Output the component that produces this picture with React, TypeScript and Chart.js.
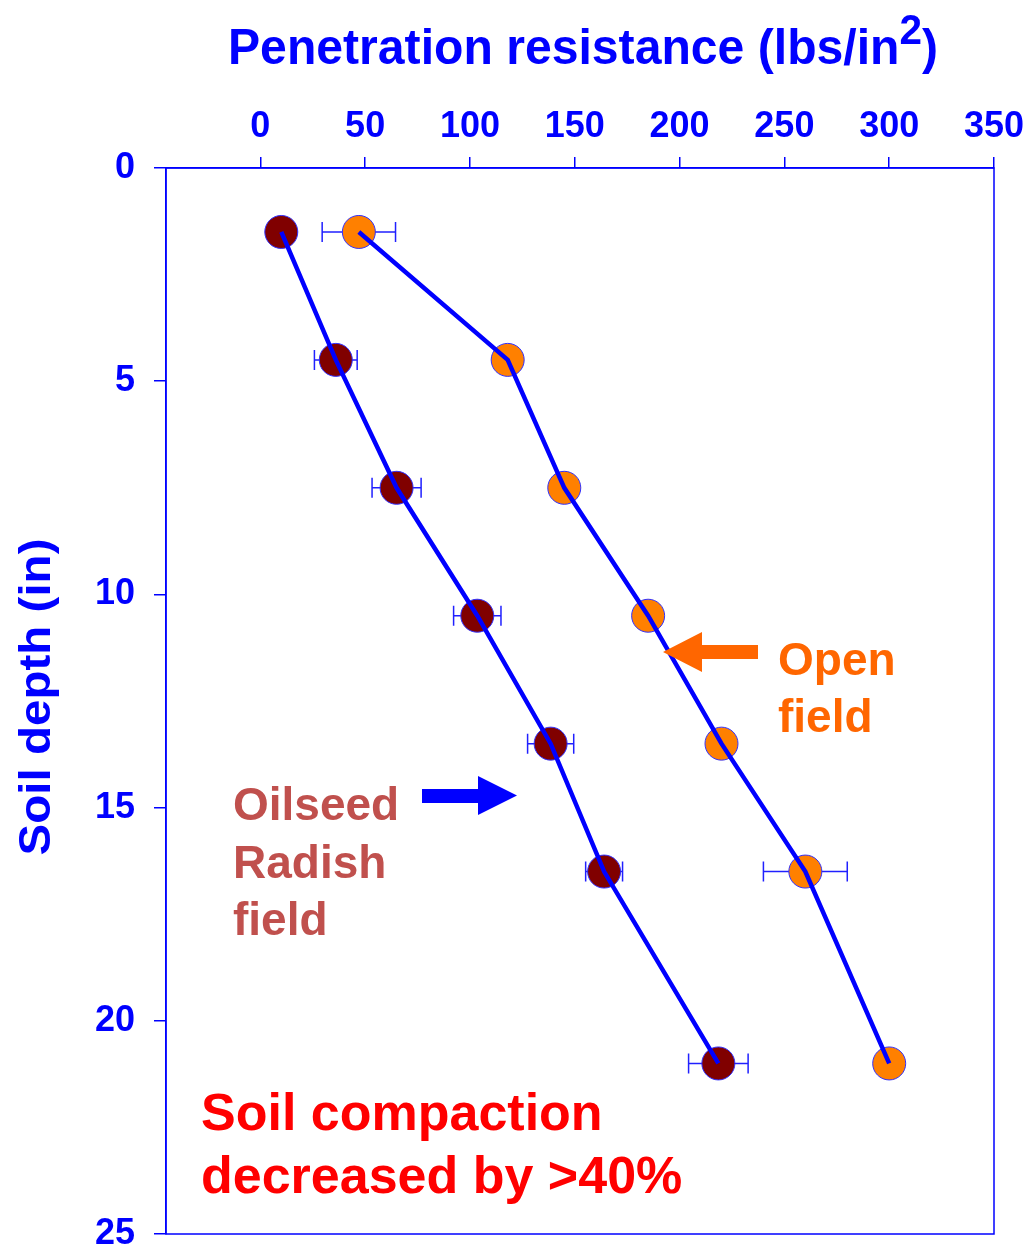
import React, { useEffect, useRef } from 'react';
import { Chart, registerables } from 'chart.js';

Chart.register(...registerables);

// ---- data ----
const depths = [1.5, 4.5, 7.5, 10.5, 13.5, 16.5, 21];
const openField = [47, 118, 145, 185, 220, 260, 300];
const openFieldErr = [17.5, 5, 5, 5, 5, 20, 5];
const radishField = [10, 36, 65, 103.5, 138.5, 164, 218.5];
const radishFieldErr = [5, 10.2, 11.7, 11.3, 11, 8.8, 14.2];

const xMin = -45;
const xMax = 350;
const xStep = 50;
const yMin = 0;
const yMax = 25;
const yStep = 5;

const xTitle = 'Penetration resistance (lbs/in';
const xTitleSup = '2';
const yTitle = 'Soil depth (in)';

const BLUE = '#0000FF';
const SANS = '"Liberation Sans", Arial, Helvetica, sans-serif';

function drawArrow(ctx: CanvasRenderingContext2D, pts: number[][], color: string) {
  ctx.beginPath();
  ctx.moveTo(pts[0][0], pts[0][1]);
  for (let i = 1; i < pts.length; i++) ctx.lineTo(pts[i][0], pts[i][1]);
  ctx.closePath();
  ctx.fillStyle = color;
  ctx.fill();
}

const errorBarPlugin = {
  id: 'errorBars',
  beforeDatasetsDraw(chart: any) {
    const ctx = chart.ctx;
    const xs = chart.scales.x;
    const ys = chart.scales.y;
    const sets = [
      [openField, openFieldErr],
      [radishField, radishFieldErr],
    ];
    ctx.save();
    ctx.strokeStyle = '#2020FF';
    ctx.lineWidth = 1.5;
    for (const [vals, errs] of sets) {
      for (let i = 0; i < depths.length; i++) {
        const y = ys.getPixelForValue(depths[i]);
        const x1 = xs.getPixelForValue(vals[i] - errs[i]);
        const x2 = xs.getPixelForValue(vals[i] + errs[i]);
        ctx.beginPath();
        ctx.moveTo(x1, y);
        ctx.lineTo(x2, y);
        ctx.moveTo(x1, y - 10);
        ctx.lineTo(x1, y + 10);
        ctx.moveTo(x2, y - 10);
        ctx.lineTo(x2, y + 10);
        ctx.stroke();
      }
    }
    // frame
    const a = chart.chartArea;
    ctx.strokeStyle = BLUE;
    ctx.lineWidth = 1.5;
    ctx.strokeRect(a.left, a.top, a.right - a.left, a.bottom - a.top);
    ctx.restore();
  },
};

const textPlugin = {
  id: 'texts',
  afterDraw(chart: any) {
    const ctx: CanvasRenderingContext2D = chart.ctx;
    ctx.save();
    // x title with superscript
    const mainFont = `bold 50px ${SANS}`;
    const supFont = `bold 42px ${SANS}`;
    ctx.font = mainFont;
    const w1 = ctx.measureText(xTitle).width;
    const w3 = ctx.measureText(')').width;
    ctx.font = supFont;
    const w2 = ctx.measureText(xTitleSup).width;
    const total = w1 + w2 + w3;
    const targetLeft = 228;
    const targetW = 710;
    const sx = targetW / total;
    ctx.translate(targetLeft, 64);
    ctx.scale(sx, 1);
    ctx.fillStyle = BLUE;
    ctx.textBaseline = 'alphabetic';
    ctx.textAlign = 'left';
    ctx.font = mainFont;
    ctx.fillText(xTitle, 0, 0);
    ctx.font = supFont;
    ctx.fillText(xTitleSup, w1, -20);
    ctx.font = mainFont;
    ctx.fillText(')', w1 + w2, 0);
    ctx.restore();

    // y title rotated
    ctx.save();
    const yFont = `bold 44px ${SANS}`;
    ctx.font = yFont;
    const yw = ctx.measureText(yTitle).width;
    const a = chart.chartArea;
    ctx.translate(38, (a.top + a.bottom) / 2 - 4);
    ctx.rotate(-Math.PI / 2);
    ctx.scale(317 / yw, 1);
    ctx.fillStyle = BLUE;
    ctx.textAlign = 'center';
    ctx.textBaseline = 'middle';
    ctx.fillText(yTitle, 0, 0);
    ctx.restore();

    // annotations
    ctx.save();
    ctx.textAlign = 'left';
    ctx.textBaseline = 'alphabetic';
    ctx.font = `bold 46px ${SANS}`;
    ctx.fillStyle = '#FF6600';
    ctx.fillText('Open', 778, 675);
    ctx.fillText('field', 778, 732);

    ctx.font = `bold 46px ${SANS}`;
    ctx.fillStyle = '#C0504D';
    ctx.fillText('Oilseed', 233, 820);
    ctx.fillText('Radish', 233, 878);
    ctx.fillText('field', 233, 935);

    ctx.font = `bold 52px ${SANS}`;
    ctx.fillStyle = '#FF0000';
    ctx.fillText('Soil compaction', 201, 1130);
    ctx.fillText('decreased by >40%', 201, 1193);

    drawArrow(ctx, [[663, 652], [702, 632], [702, 645], [758, 645], [758, 659], [702, 659], [702, 672]], '#FF6600');
    drawArrow(ctx, [[517, 795.5], [478, 776], [478, 789], [422, 789], [422, 803], [478, 803], [478, 815]], '#0000FF');
    ctx.restore();
  },
};

export default function App() {
  const ref = useRef<HTMLCanvasElement | null>(null);

  useEffect(() => {
    if (!ref.current) return;
    const pts = (vals: number[]) => vals.map((v, i) => ({ x: v, y: depths[i] }));
    const chart = new Chart(ref.current, {
      type: 'scatter',
      data: {
        datasets: [
          {
            label: 'Open field line',
            data: pts(openField),
            showLine: true,
            borderColor: BLUE,
            borderWidth: 4.5,
            pointRadius: 0,
            order: 1,
          } as any,
          {
            label: 'Oilseed Radish line',
            data: pts(radishField),
            showLine: true,
            borderColor: BLUE,
            borderWidth: 4.5,
            pointRadius: 0,
            order: 1,
          } as any,
          {
            label: 'Open field',
            data: pts(openField),
            showLine: false,
            pointRadius: 16.5,
            backgroundColor: '#FF8000',
            borderColor: '#3030FF',
            borderWidth: 1,
            order: 3,
          } as any,
          {
            label: 'Oilseed Radish field',
            data: pts(radishField),
            showLine: false,
            pointRadius: 16.5,
            backgroundColor: '#800000',
            borderColor: '#3030FF',
            borderWidth: 1,
            order: 3,
          } as any,
        ],
      },
      options: {
        responsive: false,
        animation: false,
        devicePixelRatio: 1,
        layout: { padding: { left: 0, right: 40, top: 0, bottom: 19 } },
        plugins: {
          legend: { display: false },
          tooltip: { enabled: false },
          title: { display: false },
        },
        scales: {
          x: {
            type: 'linear',
            position: 'top',
            min: xMin,
            max: xMax,
            ticks: {
              stepSize: xStep,
              includeBounds: false,
              color: BLUE,
              padding: 8,
              font: { family: SANS, size: 36, weight: 'bold', lineHeight: 1.2 },
              maxRotation: 0,
            },
            grid: {
              display: true,
              drawOnChartArea: false,
              drawTicks: true,
              tickLength: 11,
              color: BLUE,
              lineWidth: 1.5,
            },
            border: { display: true, color: BLUE, width: 1.5 },
            afterFit: (s: any) => {
              s.height = 168;
              s.paddingLeft = 0;
              s.paddingRight = 0;
            },
          } as any,
          y: {
            type: 'linear',
            reverse: true,
            min: yMin,
            max: yMax,
            ticks: {
              stepSize: yStep,
              color: BLUE,
              padding: 19,
              font: { family: SANS, size: 36, weight: 'bold' },
            },
            grid: {
              display: true,
              drawOnChartArea: false,
              drawTicks: true,
              tickLength: 12,
              color: BLUE,
              lineWidth: 1.5,
            },
            border: { display: true, color: BLUE, width: 1.5 },
            afterFit: (s: any) => {
              s.width = 166;
              s.paddingTop = 0;
              s.paddingBottom = 0;
            },
          } as any,
        },
      },
      plugins: [errorBarPlugin, textPlugin],
    });
    return () => chart.destroy();
  }, []);

  return (
    <div style={{ position: 'fixed', left: 0, top: 0, width: 1034, height: 1253, background: '#fff' }}>
      <canvas ref={ref} width={1034} height={1253} style={{ width: 1034, height: 1253, display: 'block' }} />
    </div>
  );
}
